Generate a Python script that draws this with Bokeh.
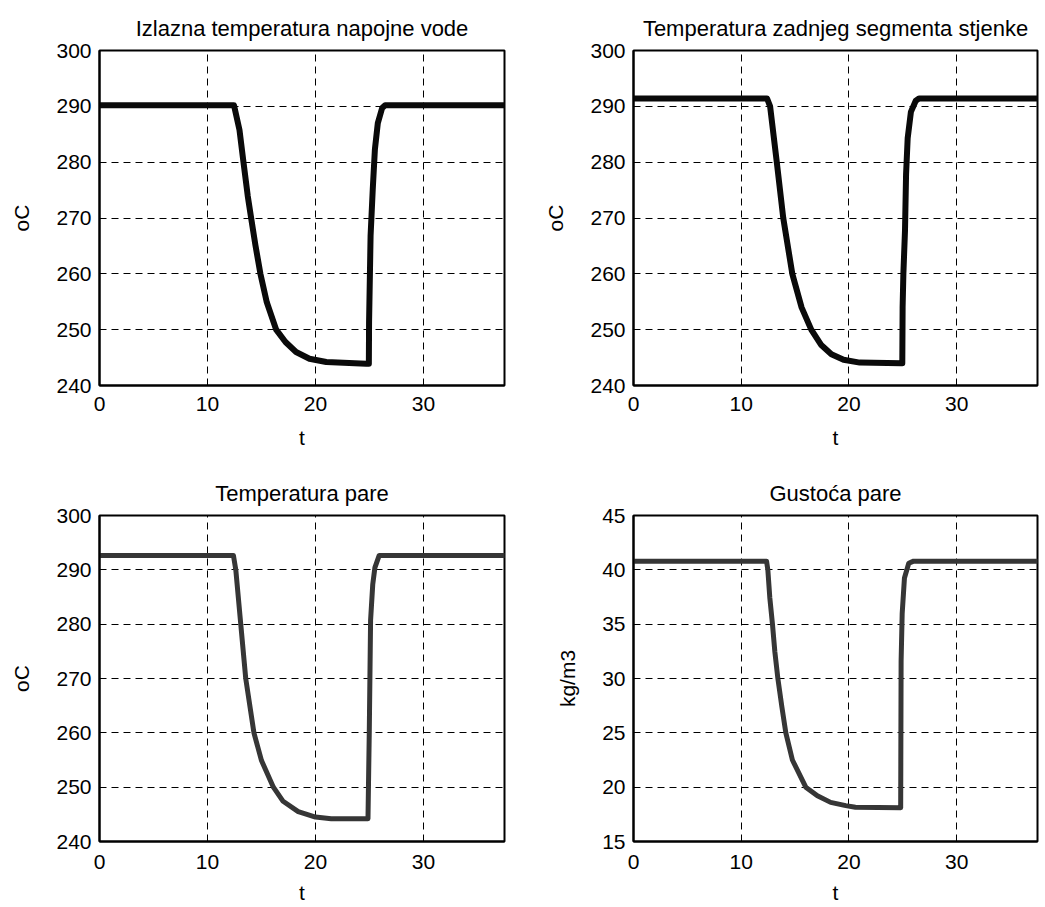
from bokeh.plotting import figure
from bokeh.layouts import row, column
from bokeh.models import Range1d, FixedTicker
from bokeh.embed import file_html
from bokeh.resources import INLINE

# ---- data ----
titles = ["Izlazna temperatura napojne vode", "Temperatura zadnjeg segmenta stjenke",
          "Temperatura pare", "Gustoća pare"]
ylabels = ["oC", "oC", "oC", "kg/m3"]
x_ticks = [0, 10, 20, 30]
y_ticks_temp = [240, 250, 260, 270, 280, 290, 300]
y_ticks_dens = [15, 20, 25, 30, 35, 40, 45]

t1 = [0, 12.45, 12.96, 13.33, 13.73, 14.04, 14.44, 14.9, 15.49, 16.36, 17.22, 18.2,
      19.44, 21.0, 24.7, 24.94, 24.96, 25.1, 25.3, 25.5, 25.77, 26.17, 26.45, 37.5]
y1 = [290.2, 290.2, 285.8, 280, 273.9, 270, 265.1, 260, 254.9, 250, 247.8, 246.0,
      244.8, 244.2, 243.9, 243.9, 251.3, 266.8, 275.1, 282.3, 287, 289.7, 290.2, 290.2]

t2 = [0, 12.4, 12.68, 13.3, 13.9, 14.74, 15.6, 16.5, 17.4, 18.37, 19.5, 21.0, 24.85,
      24.95, 24.98, 25.05, 25.2, 25.3, 25.45, 25.75, 26.2, 26.5, 37.5]
y2 = [291.4, 291.4, 290, 280, 270, 260, 254.0, 250, 247.3, 245.6, 244.6, 244.1, 244.0,
      244.0, 254, 260, 267.7, 277.8, 284.3, 289, 291, 291.4, 291.4]

t3 = [0, 12.4, 12.62, 13.08, 13.54, 14.3, 15.0, 16.1, 17.0, 18.4, 20.0, 21.45, 24.86,
      24.98, 25.1, 25.3, 25.5, 25.9, 37.5]
y3 = [292.65, 292.65, 290, 280, 270, 260, 254.9, 250, 247.4, 245.5, 244.5, 244.2, 244.2,
      260.3, 280.7, 287.3, 290.4, 292.65, 292.65]

t4 = [0, 12.35, 12.47, 12.65, 12.9, 13.12, 13.4, 13.77, 14.14, 14.75, 15.99, 17.07,
      18.3, 19.7, 20.6, 24.8, 24.84, 24.94, 25.15, 25.55, 26.0, 37.5]
y4 = [40.8, 40.8, 40, 37.46, 35, 32.46, 30, 27.4, 25, 22.5, 20, 19.2,
      18.6, 18.3, 18.15, 18.1, 31.6, 36.0, 39.25, 40.6, 40.8, 40.8]

FONT = "Liberation Sans"


def make(title, ylabel, t, y, yr, yticks, color, lw, width, height, bl, br, bt, bb,
         xt_standoff, xl_standoff):
    p = figure(width=width, height=height, output_backend="svg", toolbar_location=None,
               x_range=Range1d(0, 37.5), y_range=Range1d(*yr),
               min_border_left=bl, min_border_right=br, min_border_top=bt,
               min_border_bottom=bb, title=title)
    p.title.text_font = FONT
    p.title.text_font_size = "22px"
    p.title.text_font_style = "normal"
    p.title.text_color = "black"
    p.title.align = "center"
    p.title.standoff = 19
    p.outline_line_color = "black"
    p.outline_line_width = 2
    p.background_fill_color = "white"
    p.border_fill_color = "white"
    for ax in (p.xaxis[0], p.yaxis[0]):
        ax.axis_line_color = "black"
        ax.axis_line_width = 2
        ax.major_tick_in = 0
        ax.major_tick_out = 0
        ax.minor_tick_line_color = None
        ax.major_label_text_font = FONT
        ax.major_label_text_font_size = "21px"
        ax.major_label_text_color = "black"
        ax.axis_label_text_font = FONT
        ax.axis_label_text_font_size = "21px"
        ax.axis_label_text_font_style = "normal"
        ax.axis_label_text_color = "black"
    p.xaxis[0].ticker = FixedTicker(ticks=x_ticks)
    p.yaxis[0].ticker = FixedTicker(ticks=yticks)
    p.xaxis[0].axis_label = "t"
    p.yaxis[0].axis_label = ylabel
    p.xaxis[0].major_label_standoff = xt_standoff
    p.xaxis[0].axis_label_standoff = xl_standoff
    p.yaxis[0].major_label_standoff = 8
    p.yaxis[0].axis_label_standoff = 20
    for g in (p.xgrid[0], p.ygrid[0]):
        g.grid_line_color = "black"
        g.grid_line_width = 1
        g.grid_line_dash = "7 5"
        g.grid_line_alpha = 1.0
    p.line(t, y, line_color=color, line_width=lw, line_join="round", line_cap="round")
    return p


p1 = make(titles[0], ylabels[0], t1, y1, (240, 300), y_ticks_temp, "#0a0a0a", 6,
          533, 468, 99, 29, 50, 83, 11, 12)
p2 = make(titles[1], ylabels[1], t2, y2, (240, 300), y_ticks_temp, "#0a0a0a", 6,
          508, 468, 100, 4, 50, 83, 11, 12)
p3 = make(titles[2], ylabels[2], t3, y3, (240, 300), y_ticks_temp, "#363636", 5,
          533, 438, 99, 29, 47, 59, 13, 9)
p4 = make(titles[3], ylabels[3], t4, y4, (15, 45), y_ticks_dens, "#363636", 5,
          508, 438, 100, 4, 47, 59, 13, 9)

layout = column(row(p1, p2), row(p3, p4))
open("out.html", "w").write(file_html(layout, INLINE))
